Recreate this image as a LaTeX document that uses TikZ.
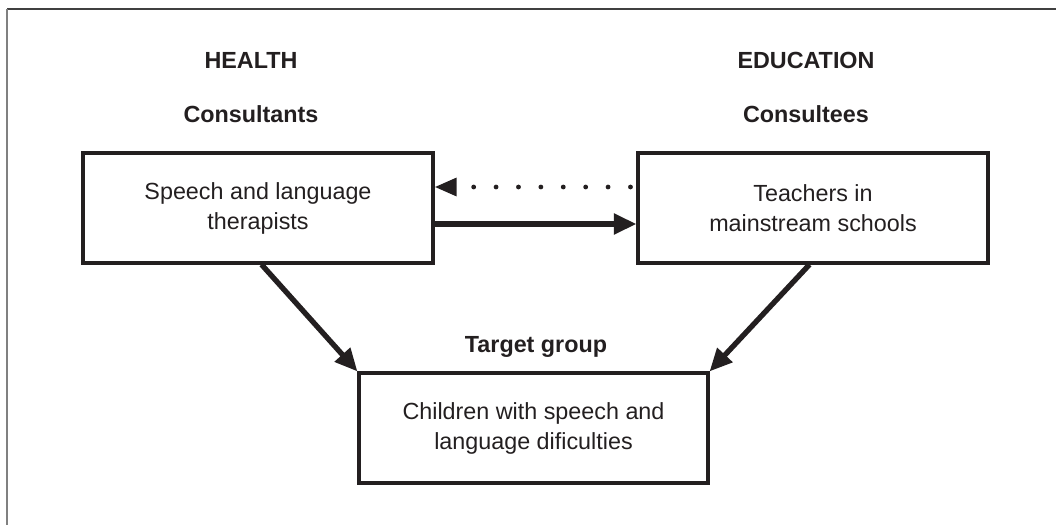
\documentclass[tikz,border=0pt]{standalone}
\usepackage{fontspec}
\setmainfont{Liberation Sans}
\usetikzlibrary{arrows.meta,calc}
\definecolor{ink}{HTML}{231F20}
\tikzset{
  box/.style={draw=ink, line width=2.3pt, rectangle, align=center, text=ink,
    minimum height=82.5pt, inner sep=0pt, font=\fontsize{17.5}{22.5}\selectfont},
  head/.style={font=\fontsize{17.5}{22.5}\selectfont\bfseries, text=ink, anchor=base, inner sep=0pt},
  flow/.style={draw=ink, line width=4pt, -{Triangle[length=17pt,width=15pt]}},
  dotflow/.style={draw=ink, line width=3.6pt, line cap=round,
    dash pattern=on 0pt off 16.8pt, dash phase=12.3pt,
    -{Triangle[length=16.5pt,width=13pt,line cap=butt]}},
}
\begin{document}
\begin{tikzpicture}[x=0.75pt, y=-0.75pt]
  \useasboundingbox (0,0) rectangle (1056,525);
  % outer frame (open to the right and bottom)
  \draw[draw=black!75, line width=1.2pt] (7,9) -- (1056,9);
  \draw[draw=black!50, line width=1.5pt] (7,9) -- (7,525);

  % column headings
  \node[head] (health) at (251,68) {HEALTH};
  \node[head] (consultants) at (251,122) {Consultants};
  \node[head] (education) at (806,68) {EDUCATION};
  \node[head] (consultees) at (806,122) {Consultees};
  \node[head] (target) at (536,352) {Target group};

  % boxes
  \node[box, minimum width=262.5pt] (L) at (258,208) {Speech and language\\therapists};
  \node[box, minimum width=262.5pt] (R) at (813,208) {Teachers in\\mainstream schools};
  \node[box, minimum width=261.75pt] (B) at (533.5,428) {Children with speech and\\language dificulties};

  % connectors
  \coordinate (ydot) at (0,187);
  \coordinate (ysolid) at (0,224);
  \draw[dotflow] (R.west |- ydot) -- (L.east |- ydot);
  \draw[flow] (L.east |- ysolid) -- (R.west |- ysolid);
  \draw[flow] ($(L.south west)!0.51!(L.south east)$) -- (B.north west);
  \draw[flow] ($(R.south west)!0.49!(R.south east)$) -- (B.north east);
\end{tikzpicture}
\end{document}
